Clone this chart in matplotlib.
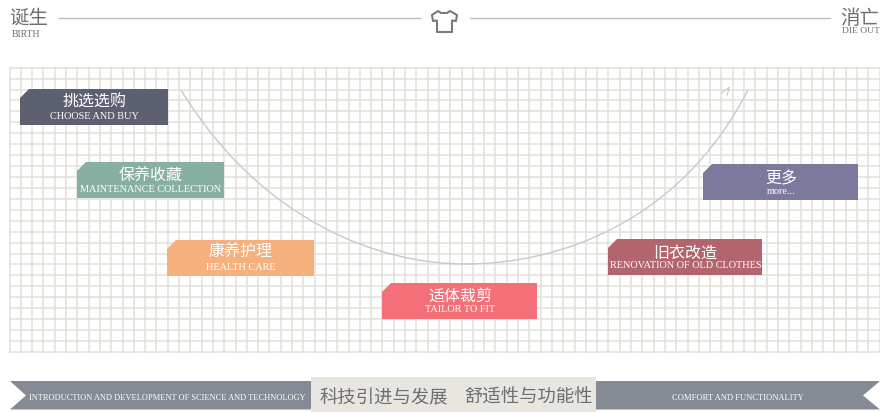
import matplotlib

matplotlib.use("Agg")
import matplotlib.pyplot as plt
from matplotlib.patches import PathPatch, Polygon, Rectangle
from matplotlib.path import Path

W, H = 880, 412

plt.rcParams["font.family"] = ["Noto Sans CJK SC", "DejaVu Sans"]
LATIN = ["Liberation Serif", "DejaVu Sans"]

# stages along the curve
stage_zh = ["挑选选购", "保养收藏", "康养护理", "适体裁剪", "旧衣改造", "更多"]
stage_en = [
    "CHOOSE AND BUY",
    "MAINTENANCE COLLECTION",
    "HEALTH CARE",
    "TAILOR TO FIT",
    "RENOVATION OF OLD CLOTHES",
    "more...",
]
stage_color = ["#5c6070", "#87b0a2", "#f5b07d", "#f47079", "#b2656c", "#7b7a9d"]

# box layout in pixels
stage_left = [20, 77, 167, 382, 608, 703]
stage_right = [168, 224, 314, 537, 762, 858]
stage_top = [89, 162, 240, 283, 239, 164]
zh_offset = [13.5, 14.5, 12.5, 13, 14, 15]

band_zh = ["科技引进与发展", "舒适性与功能性"]
band_en = ["INTRODUCTION AND DEVELOPMENT OF SCIENCE AND TECHNOLOGY", "COMFORT AND FUNCTIONALITY"]

GRID = "#e3e0da"
BAND = "#848b94"
TITLE = "#6f6f6f"
BOX_H = 36

fig = plt.figure(figsize=(W / 100, H / 100), dpi=100)
ax = fig.add_axes([0, 0, 1, 1])
ax.set_xlim(0, W)
ax.set_ylim(H, 0)
ax.axis("off")

# background grid
for i in range(78):
    x = 9.5 + i * 11.3
    ax.plot([x, x], [67.7, 352], color=GRID, lw=1.1, zorder=1)
for i in range(27):
    y = 67.7 + i * 10.93
    ax.plot([9.5, 879.5], [y, y], color=GRID, lw=1.1, zorder=1)

# header
ax.text(29, 18, "诞生", fontsize=14, color=TITLE, ha="center", va="center")
ax.text(26, 34, "BIRTH", fontsize=7, color=TITLE, ha="center", va="center", family=LATIN)
ax.text(860, 18, "消亡", fontsize=14, color=TITLE, ha="center", va="center")
ax.text(861, 31, "DIE OUT", fontsize=6.8, color=TITLE, ha="center", va="center", family=LATIN)
ax.plot([59, 420], [17.5, 17.5], color="#bdbdb8", lw=1)
ax.plot([470, 830], [17.5, 17.5], color="#bdbdb8", lw=1)

# t-shirt icon
shirt = [
    (438, 11), (432, 15), (433, 21), (437, 20.5), (437, 32), (452, 32),
    (452, 20.5), (456, 21), (457, 15), (450, 11), (447, 13), (441, 13),
]
ax.add_patch(Polygon(shirt, closed=True, fill=False, ec="#777b80", lw=1.5, joinstyle="round", zorder=3))

# lifecycle curve
curve = Path(
    [(181, 90), (262, 222), (380, 264), (465, 264), (560, 264), (680, 222), (748, 90)],
    [Path.MOVETO] + [Path.CURVE4] * 6,
)
ax.add_patch(PathPatch(curve, fill=False, ec="#c8c9cb", lw=1.0, zorder=2))
ax.plot([722, 729.5, 727], [93, 87, 95], color="#c8c8c8", lw=0.8, zorder=2)

# stage boxes with cut corner
for i, zh in enumerate(stage_zh):
    left, right, top = stage_left[i], stage_right[i], stage_top[i]
    pts = [(left + 9, top), (right, top), (right, top + BOX_H), (left, top + BOX_H), (left, top + 9)]
    ax.add_patch(Polygon(pts, closed=True, fc=stage_color[i], ec="none", zorder=4))
    cx = (left + right) / 2 + 0.5
    ax.text(cx, top + zh_offset[i], zh, fontsize=11.5, color="white", ha="center", va="center", zorder=5)
    ax.text(cx, top + 27, stage_en[i], fontsize=7.35, color="white", ha="center", va="center", family=LATIN, zorder=5)

# bottom band
ax.add_patch(Polygon([(10, 381), (311, 381), (311, 409.5), (10, 409.5), (26, 395.5)], closed=True, fc=BAND, ec="none"))
ax.add_patch(Polygon([(596, 381), (880, 381), (863, 395.5), (880, 409.5), (596, 409.5)], closed=True, fc=BAND, ec="none"))
ax.add_patch(Rectangle((311, 377), 285, 35, fc="#e8e6e0", ec="none"))
ax.text(383.5, 398, band_zh[0], fontsize=13.2, color="#6e6e6e", ha="center", va="center")
ax.text(528.5, 398, band_zh[1], fontsize=13.2, color="#6e6e6e", ha="center", va="center")
ax.text(167, 397.5, band_en[0], fontsize=6.05, color="white", ha="center", va="center", family=LATIN)
ax.text(738, 397.5, band_en[1], fontsize=6.1, color="white", ha="center", va="center", family=LATIN)

fig.savefig("out.png", dpi=100)
